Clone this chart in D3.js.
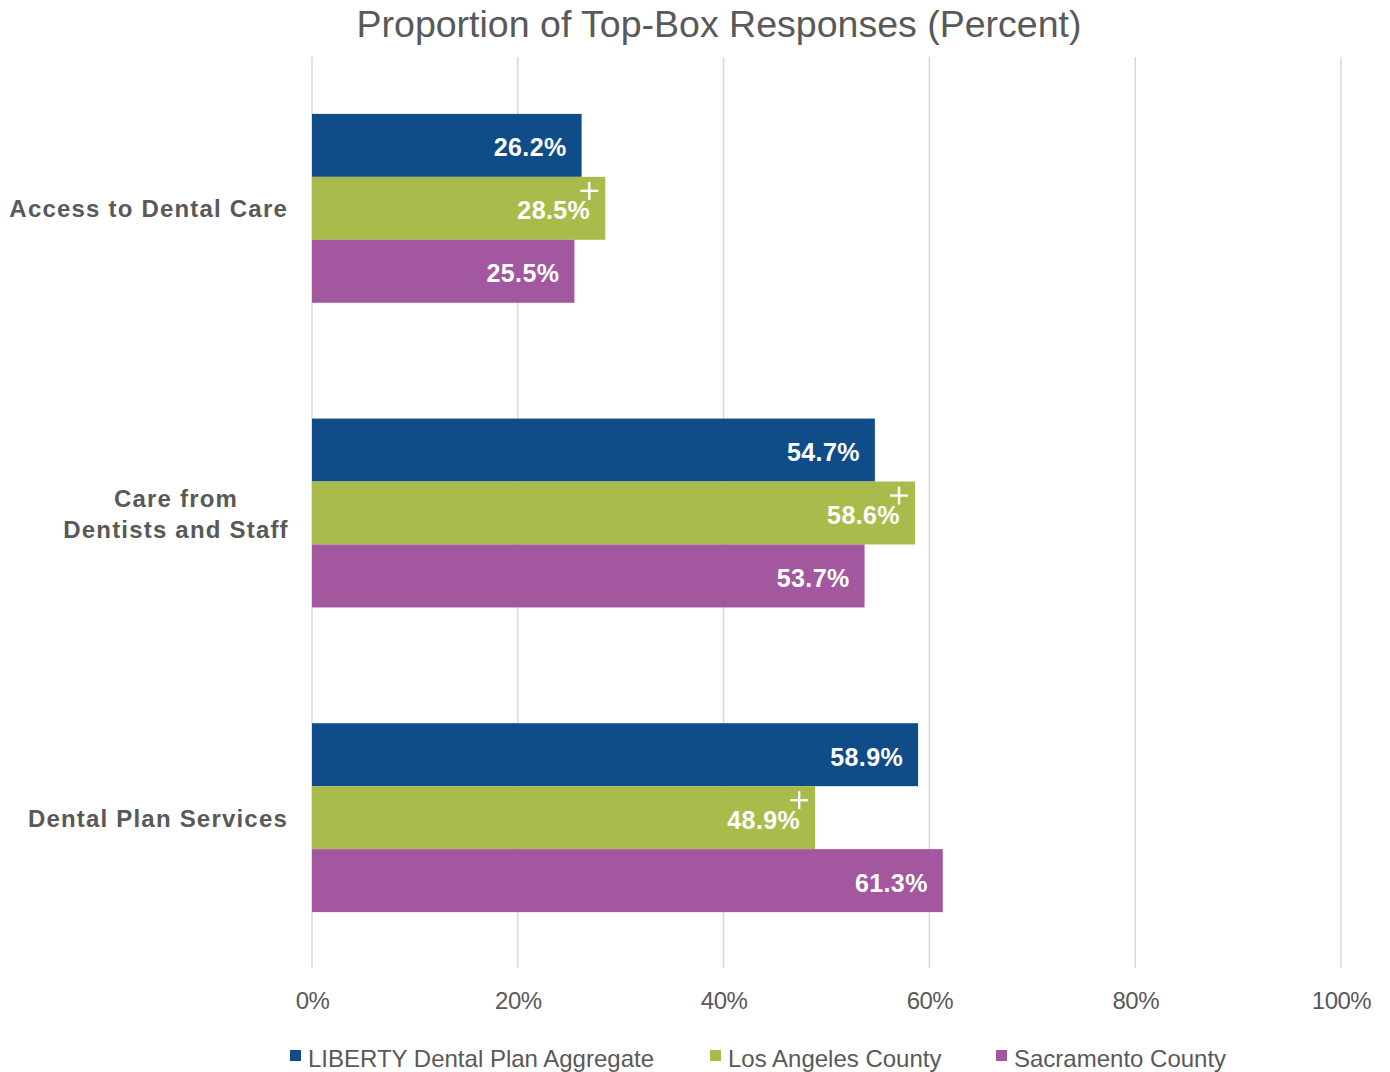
<!DOCTYPE html>
<html>
<head>
<meta charset="utf-8">
<script src="https://cdn.jsdelivr.net/npm/d3@7"></script>
<style>
    body { margin: 0; background: #fff; }
    text { font-family: "Liberation Sans", Arial, sans-serif; }
</style>
</head>
<body>
<div class="chart"></div>
<script>
// Data
const categories = ['Access to Dental Care', 'Care from\nDentists and Staff', 'Dental Plan Services'];
const seriesNames = ['LIBERTY Dental Plan Aggregate', 'Los Angeles County', 'Sacramento County'];
const libertyValues = [26.2, 54.7, 58.9];
const losAngelesValues = [28.5, 58.6, 48.9];
const sacramentoValues = [25.5, 53.7, 61.3];
const significant = [true, true, true]; // "+" marks on Los Angeles bars
const tickValues = [0, 20, 40, 60, 80, 100];
const colors = ['#0F4C88', '#A9BC4B', '#A2579E'];

const seriesValues = [libertyValues, losAngelesValues, sacramentoValues];
const dataset = [];
categories.forEach((c, i) => {
    seriesValues.forEach((vals, s) => {
        dataset.push({ category: c, series: seriesNames[s], value: vals[i], plus: s === 1 && significant[i] });
    });
});

// Dimensions
const dimensions = { width: 1390, height: 1072, left: 312, right: 1341, top: 56, bottom: 970 };

const svg = d3.select('.chart')
    .append('svg')
    .attr('width', dimensions.width)
    .attr('height', dimensions.height);

// Scales
const xScale = d3.scaleLinear()
    .domain([0, 100])
    .range([dimensions.left, dimensions.right]);

const yScale = d3.scaleBand()
    .domain(categories)
    .range([dimensions.top, dimensions.bottom])
    .paddingInner(0.38)
    .paddingOuter(0.19);

const ySubScale = d3.scaleBand()
    .domain(seriesNames)
    .range([0, yScale.bandwidth()]);

const colorScale = d3.scaleOrdinal()
    .domain(seriesNames)
    .range(colors);

// Gridlines
svg.append('g')
    .selectAll('line')
    .data(tickValues)
    .join('line')
    .attr('x1', d => xScale(d))
    .attr('x2', d => xScale(d))
    .attr('y1', 57)
    .attr('y2', 968)
    .attr('stroke', '#D9D9D9')
    .attr('stroke-width', 1.5);

// Bars
const groups = svg.append('g')
    .selectAll('g')
    .data(categories)
    .join('g')
    .attr('transform', d => `translate(0, ${yScale(d)})`);

groups.selectAll('rect')
    .data(c => dataset.filter(d => d.category === c))
    .join('rect')
    .attr('x', xScale(0))
    .attr('y', d => ySubScale(d.series))
    .attr('width', d => xScale(d.value) - xScale(0))
    .attr('height', ySubScale.bandwidth())
    .attr('fill', d => colorScale(d.series));

// Bar labels
groups.selectAll('text.value')
    .data(c => dataset.filter(d => d.category === c))
    .join('text')
    .attr('class', 'value')
    .attr('x', d => xScale(d.value) - 15)
    .attr('y', d => ySubScale(d.series) + ySubScale.bandwidth() / 2 + 11)
    .attr('text-anchor', 'end')
    .attr('fill', '#fff')
    .attr('font-size', 25)
    .attr('font-weight', 'bold')
    .attr('letter-spacing', 0.4)
    .text(d => `${d.value.toFixed(1)}%`);

// "+" marks drawn as two strokes
const plusSize = 9;
const plusGroups = groups.selectAll('g.plus')
    .data(c => dataset.filter(d => d.category === c && d.plus))
    .join('g')
    .attr('class', 'plus')
    .attr('transform', d => `translate(${xScale(d.value) - 16}, ${ySubScale(d.series) + 14})`)
    .attr('stroke', '#fff')
    .attr('stroke-width', 2.4);

plusGroups.append('line')
    .attr('x1', -plusSize).attr('x2', plusSize)
    .attr('y1', 0).attr('y2', 0);
plusGroups.append('line')
    .attr('x1', 0).attr('x2', 0)
    .attr('y1', -plusSize).attr('y2', plusSize);

// Category labels
const catLabels = svg.append('g')
    .selectAll('text')
    .data(categories)
    .join('text')
    .attr('fill', '#595959')
    .attr('font-size', 24)
    .attr('font-weight', 'bold')
    .attr('letter-spacing', 1.2);

catLabels.each(function(d) {
    const lines = d.split('\n');
    const el = d3.select(this);
    const cy = yScale(d) + yScale.bandwidth() / 2;
    if (lines.length === 1) {
        el.attr('text-anchor', 'end')
            .attr('x', 288)
            .attr('y', cy + 9)
            .text(d);
    } else {
        el.attr('text-anchor', 'middle');
        lines.forEach((l, i) => {
            el.append('tspan')
                .attr('x', 176)
                .attr('y', cy - 6 + i * 31)
                .text(l);
        });
    }
});

// Axis
const xAxis = d3.axisBottom(xScale)
    .tickValues(tickValues)
    .tickFormat(d => `${d}%`)
    .tickSize(0);

const xAxisGroup = svg.append('g')
    .attr('transform', `translate(0, 989)`)
    .call(xAxis);
xAxisGroup.select('.domain').remove();
xAxisGroup.selectAll('text')
    .attr('fill', '#595959')
    .attr('font-size', 24)
    .attr('font-family', '"Liberation Sans", Arial, sans-serif')
    .attr('letter-spacing', -0.5);

// Title
svg.append('text')
    .attr('x', 719)
    .attr('y', 37)
    .attr('text-anchor', 'middle')
    .attr('fill', '#595959')
    .attr('font-size', 36)
    .attr('textLength', 725)
    .attr('lengthAdjust', 'spacingAndGlyphs')
    .text('Proportion of Top-Box Responses (Percent)');

// Legend
const legendX = [290, 710, 996];
const legend = svg.append('g')
    .selectAll('g')
    .data(seriesNames)
    .join('g')
    .attr('transform', (d, i) => `translate(${legendX[i]}, 1058)`);

legend.append('rect')
    .attr('x', 0)
    .attr('y', -8)
    .attr('width', 11)
    .attr('height', 11)
    .attr('fill', colorScale);

legend.append('text')
    .attr('x', 18)
    .attr('y', 9)
    .attr('fill', '#595959')
    .attr('font-size', 24)
    .attr('letter-spacing', 0)
    .text(d => d);
</script>
</body>
</html>
